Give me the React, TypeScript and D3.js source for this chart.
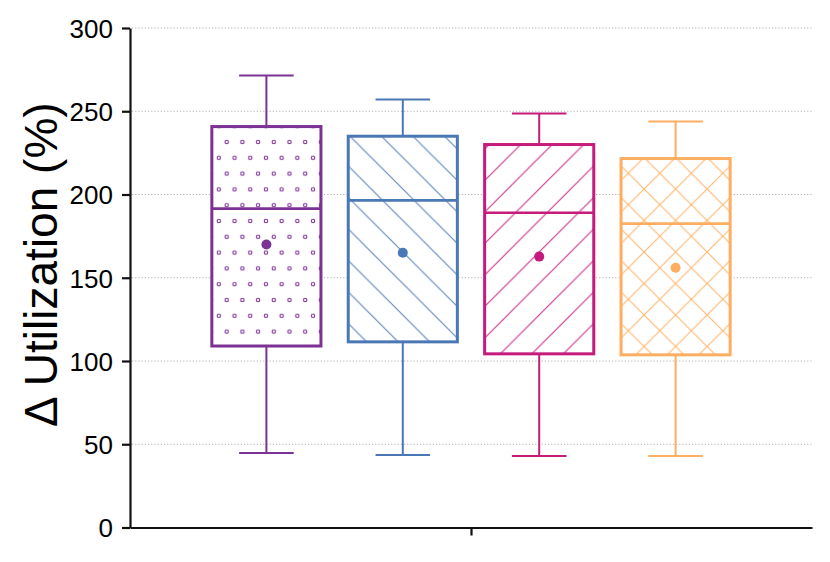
import * as d3 from "d3"
import { useEffect, useRef } from "react"

const groups = ["A", "B", "C", "D"]
const colours = ["#7b3294", "#4a78b5", "#c51b7d", "#fdae61"]
const patterns = ["dots", "back", "fwd", "cross"]
const whiskerLow = [44.8, 43.6, 43, 43]
const q1 = [109, 111.5, 104.3, 103.7]
const median = [191.5, 196.5, 189, 182.5]
const q3 = [240.8, 235, 230, 221.6]
const whiskerHigh = [271.5, 257, 248.6, 243.8]
const means = [170, 165, 162.7, 156]
const yTicks = [0, 50, 100, 150, 200, 250, 300]

const App = () => {
  const ref = useRef<SVGSVGElement>(null)

  useEffect(() => {
    const width = 830
    const height = 562
    const svg = d3.select(ref.current)
    svg.selectAll("*").remove()
    svg.attr("width", width).attr("height", height)

    const left = 130
    const right = 812
    const top = 28
    const bottom = 527.5

    const x = d3.scaleLinear().domain([0, groups.length + 1]).range([left, right])
    const y = d3.scaleLinear().domain([0, 300]).range([bottom, top])
    const step = x(1) - x(0)
    const boxW = step * 0.8

    // fill patterns
    const defs = svg.append("defs")
    groups.forEach((g, i) => {
      const c = colours[i]
      const kind = patterns[i]
      const p = defs
        .append("pattern")
        .attr("id", `pat-${i}`)
        .attr("patternUnits", "userSpaceOnUse")
      if (kind === "dots") {
        p.attr("width", 15.7).attr("height", 31.6).attr("x", x(i + 1) - boxW / 2 + 7).attr("y", 142)
        p.append("rect").attr("width", 15.7).attr("height", 31.6).attr("fill", "#fff")
        ;[[7.85, 0], [0, 15.8], [15.7, 15.8], [7.85, 31.6]].forEach(([cx, cy]) => {
          p.append("circle").attr("cx", cx).attr("cy", cy).attr("r", 1.7)
            .attr("fill", "#fff").attr("stroke", c).attr("stroke-width", 1.1)
        })
      } else {
        const s = 31.5
        p.attr("width", s).attr("height", s).attr("x", x(i + 1)).attr("y", 0)
        p.append("rect").attr("width", s).attr("height", s).attr("fill", "#fff")
        const lines: string[] = []
        if (kind === "back" || kind === "cross") lines.push(`M${-s},0L${2 * s},${3 * s}M${-s},${-s}L${2 * s},${2 * s}M0,${-s}L${2 * s},${s}`)
        if (kind === "fwd" || kind === "cross") lines.push(`M${-s},${s}L${s},${-s}M${-s},${2 * s}L${2 * s},${-s}M0,${2 * s}L${2 * s},0`)
        p.append("path").attr("d", lines.join("")).attr("stroke", c)
          .attr("stroke-width", 1.1).attr("stroke-opacity", 0.9).attr("fill", "none")
      }
    })

    // grid
    svg.append("g")
      .selectAll("line")
      .data(yTicks.filter((t) => t > 0))
      .join("line")
      .attr("x1", left + 2)
      .attr("x2", right)
      .attr("y1", (d) => y(d))
      .attr("y2", (d) => y(d))
      .attr("stroke", "#b0b0b0")
      .attr("stroke-width", 1)
      .attr("stroke-dasharray", "1.2,2")

    // axes
    const yAxis = svg.append("g")
      .attr("transform", `translate(${left},0)`)
      .call(d3.axisLeft(y).tickValues(yTicks).tickSize(8).tickSizeOuter(0).tickPadding(9))
    yAxis.select(".domain").attr("stroke", "#111").attr("stroke-width", 2.2)
    yAxis.selectAll(".tick line").attr("stroke", "#111").attr("stroke-width", 2.2)
    yAxis.selectAll(".tick text")
      .attr("font-family", "Liberation Sans, Arial, sans-serif")
      .attr("font-size", 26)
      .attr("fill", "#000")
      .attr("dy", "0.36em")

    const xAxis = svg.append("g")
      .attr("transform", `translate(0,${bottom})`)
      .call(d3.axisBottom(x).tickValues([(groups.length + 1) / 2]).tickFormat(() => "").tickSize(8).tickSizeOuter(0))
    xAxis.select(".domain").attr("stroke", "#111").attr("stroke-width", 2.2)
    xAxis.selectAll(".tick line").attr("stroke", "#111").attr("stroke-width", 2.2)

    svg.append("text")
      .attr("transform", `translate(57,${(top + bottom) / 2 - 13}) rotate(-90)`)
      .attr("text-anchor", "middle")
      .attr("font-family", "Liberation Sans, Arial, sans-serif")
      .attr("font-size", 46)
      .attr("fill", "#000")
      .text("Δ Utilization (%)")

    // boxes
    const box = svg.append("g")
      .selectAll("g")
      .data(groups)
      .join("g")

    box.append("line")
      .attr("x1", (d, i) => x(i + 1))
      .attr("x2", (d, i) => x(i + 1))
      .attr("y1", (d, i) => y(whiskerLow[i]))
      .attr("y2", (d, i) => y(q1[i]))
      .attr("stroke", (d, i) => colours[i])
      .attr("stroke-width", 2)
    box.append("line")
      .attr("x1", (d, i) => x(i + 1))
      .attr("x2", (d, i) => x(i + 1))
      .attr("y1", (d, i) => y(q3[i]))
      .attr("y2", (d, i) => y(whiskerHigh[i]))
      .attr("stroke", (d, i) => colours[i])
      .attr("stroke-width", 2)
    ;[whiskerLow, whiskerHigh].forEach((arr) => {
      box.append("line")
        .attr("x1", (d, i) => x(i + 1) - boxW / 4)
        .attr("x2", (d, i) => x(i + 1) + boxW / 4)
        .attr("y1", (d, i) => y(arr[i]))
        .attr("y2", (d, i) => y(arr[i]))
        .attr("stroke", (d, i) => colours[i])
        .attr("stroke-width", 2)
    })
    box.append("rect")
      .attr("x", (d, i) => x(i + 1) - boxW / 2)
      .attr("width", boxW)
      .attr("y", (d, i) => y(q3[i]))
      .attr("height", (d, i) => y(q1[i]) - y(q3[i]))
      .attr("fill", (d, i) => `url(#pat-${i})`)
      .attr("stroke", (d, i) => colours[i])
      .attr("stroke-width", 3)
    box.append("line")
      .attr("x1", (d, i) => x(i + 1) - boxW / 2)
      .attr("x2", (d, i) => x(i + 1) + boxW / 2)
      .attr("y1", (d, i) => y(median[i]))
      .attr("y2", (d, i) => y(median[i]))
      .attr("stroke", (d, i) => colours[i])
      .attr("stroke-width", 2.6)
    box.append("circle")
      .attr("cx", (d, i) => x(i + 1))
      .attr("cy", (d, i) => y(means[i]))
      .attr("r", 5)
      .attr("fill", (d, i) => colours[i])
  }, [])

  return <svg ref={ref} style={{ position: "absolute", left: 0, top: 0, display: "block" }} />
}

export default App
